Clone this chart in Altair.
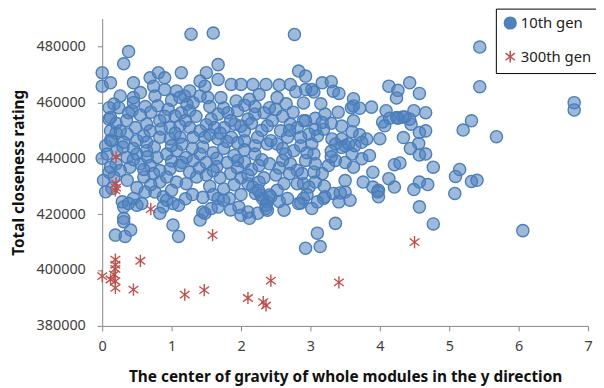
import altair as alt
import pandas as pd

gen10_x = [
    0.0, 0.0, 0.12, 0.31, 0.38, 0.45, 0.69, 0.81, 0.9, 0.74,
    0.9, 0.76, 1.14, 1.07, 1.26, 1.19, 1.41, 1.28, 1.6, 2.77,
    1.67, 1.5, 1.67, 1.48, 1.86, 2.0, 2.17, 2.36, 2.55, 2.71,
    2.79, 2.52, 1.71, 1.52, 1.93, 2.12, 2.26, 2.41, 2.83, 2.93,
    2.93, 3.02, 3.05, 3.17, 3.3, 3.33, 3.41, 3.62, 3.59, 3.62,
    3.71, 3.88, 4.13, 4.26, 4.24, 4.43, 4.57, 5.44, 5.44, 6.8,
    6.8, 5.68, 5.2, 5.32, 4.09, 4.49, 4.66, 4.04, 4.24, 4.33,
    4.45, 4.57, 4.66, 4.34, 4.56, 4.44, 4.57, 4.66, 4.77, 4.21,
    4.29, 4.13, 4.21, 4.57, 4.69, 4.49, 5.15, 5.09, 5.08, 5.32,
    5.4, 3.98, 4.57, 4.77, 6.06, 4.14, 4.26, 4.36, 4.43, 4.07,
    2.93, 3.07, 3.21, 3.17, 3.07, 2.98, 3.19, 3.31, 3.45, 3.5,
    3.64, 3.71, 3.81, 3.02, 3.05, 3.36, 3.45, 3.55, 3.74, 3.74,
    3.62, 3.85, 3.76, 3.9, 3.97, 3.98, 2.88, 3.05, 3.07, 2.98,
    2.9, 3.02, 3.21, 3.33, 3.43, 3.5, 3.57, 3.41, 3.36, 3.1,
    2.93, 3.14, 3.36, 3.26, 3.17, 3.07, 2.93, 3.62, 3.3, 3.5,
    1.41, 1.48, 2.0, 2.12, 2.1, 2.24, 2.36, 2.38, 2.43, 2.31,
    2.62, 2.86, 2.95, 3.1, 3.19, 2.1, 2.17, 2.26, 2.21, 2.29,
    2.41, 2.36, 2.38, 1.97, 2.55, 2.67, 2.83, 2.52, 2.62, 1.45,
    1.57, 1.67, 1.83, 1.67, 1.95, 2.05, 2.26, 2.41, 2.6, 2.71,
    2.81, 2.9, 2.81, 2.38, 2.52, 2.64, 2.76, 2.86, 2.33, 2.5,
    0.02, 0.14, 0.31, 0.29, 0.38, 0.45, 0.5, 0.57, 0.62, 0.76,
    0.88, 0.93, 1.02, 1.1, 0.88, 0.83, 0.31, 0.31, 0.19, 0.33,
    0.41, 0.83, 1.02, 1.1, 0.05, 0.1, 0.0, 0.05, 0.12, 0.2,
    0.26, 0.17, 0.24, 0.1, 0.45, 0.45, 0.43, 0.38, 0.12, 0.1,
    0.95, 1.05, 1.14, 1.22, 1.26, 1.31, 1.41, 0.83, 0.64, 0.48,
    0.69, 0.98, 1.12, 1.26, 0.12, 0.26, 0.36, 0.14, 0.31, 0.5,
    0.64, 0.83, 0.98, 1.12, 1.31, 1.41, 0.21, 0.64, 1.07, 0.07,
    0.5, 0.93, 1.41, 0.36, 0.79, 1.21, 1.31, 0.12, 0.26, 0.4,
    0.55, 0.69, 0.83, 0.98, 1.12, 1.26, 0.17, 0.36, 0.6, 0.74,
    0.93, 1.07, 1.21, 1.36, 0.5, 1.0, 1.3, 1.2, 0.7, 1.4,
    1.57, 2.1, 1.67, 2.2, 1.81, 2.33, 1.95, 1.62, 1.76, 2.81,
    1.91, 2.71, 2.05, 2.57, 2.38, 2.9, 1.48, 1.86, 2.24, 2.67,
    2.86, 1.67, 2.05, 2.43, 1.45, 1.6, 1.75, 1.9, 2.05, 2.2,
    1.5, 1.65, 1.8, 2.15, 1.5, 1.7, 1.85, 2.0, 1.55, 1.75,
    1.9, 2.0, 1.6, 1.85, 1.45, 2.2, 1.95, 1.55, 1.0, 0.6,
    2.5, 2.65, 2.9, 2.6, 2.45, 0.55, 0.62, 0.8, 1.0, 1.12,
    3.4, 3.45, 3.6, 3.3, 3.6, 4.0, 3.9, 3.5, 3.2, 2.7,
    0.2, 0.35, 0.55, 0.7, 0.85, 1.05, 1.2, 1.35, 0.3, 0.45,
    0.75, 1.0, 1.15, 1.3, 0.6, 0.9, 0.2, 0.45, 0.65, 1.15,
    1.5, 1.7, 1.85, 2.0, 2.15, 2.3, 1.55, 1.75, 2.05, 2.2,
    1.65, 1.8, 2.3, 2.1, 1.6, 1.95, 2.25, 1.75, 2.6, 2.7,
    2.95, 3.1, 2.75, 3.15, 3.3, 2.55,
]
gen10_y = [
    470600, 465800, 467000, 473800, 478200, 467000, 468800, 470600, 468800, 465800,
    464600, 462300, 470600, 464100, 464100, 462300, 467600, 484400, 484800, 484300,
    473500, 470600, 468200, 465800, 466400, 466400, 466400, 466400, 466200, 466400,
    463800, 461700, 461700, 461700, 460500, 461100, 462800, 458100, 471200, 469400,
    464600, 464600, 463700, 467000, 467400, 464000, 463200, 461300, 458100, 458700,
    457900, 458300, 465800, 464300, 461600, 467000, 463200, 479800, 465600, 459900,
    457300, 447700, 450100, 453400, 457000, 457000, 456300, 453000, 454600, 454800,
    452200, 449200, 449800, 447400, 445300, 443500, 441200, 441500, 436800, 437700,
    438300, 432700, 429700, 431500, 430600, 428800, 436000, 433500, 427400, 431700,
    432100, 428500, 422600, 416500, 414100, 454300, 454300, 454800, 454000, 451600,
    453400, 454300, 455800, 452800, 450400, 448700, 450400, 446900, 446900, 444500,
    444500, 448400, 446900, 445100, 441500, 445100, 443900, 445100, 445700, 439800,
    436800, 441000, 431500, 429700, 427900, 426200, 434500, 435100, 431500, 429700,
    425600, 422000, 426200, 427400, 427600, 427900, 425000, 424400, 416700, 413200,
    407800, 408400, 439200, 437400, 434500, 438000, 439200, 453400, 440500, 438500,
    417900, 420300, 419600, 418500, 420800, 420300, 422000, 424400, 426200, 425600,
    421400, 424000, 427000, 424400, 425600, 430900, 429700, 431500, 427400, 426800,
    426800, 423200, 421400, 422500, 424500, 425600, 423800, 428500, 430900, 420800,
    422000, 422600, 425600, 425600, 439200, 438600, 437400, 438000, 439200, 438000,
    435700, 430900, 430900, 445100, 445100, 441500, 442700, 444500, 433000, 434000,
    432100, 429200, 422600, 424400, 423800, 425600, 423200, 423800, 427900, 427900,
    426200, 425000, 423800, 423200, 422600, 431500, 418500, 417300, 412500, 412000,
    414300, 420300, 416100, 412000, 428000, 435000, 440000, 444500, 446500, 449000,
    462300, 459400, 458100, 458100, 461700, 459900, 457000, 456300, 454600, 454000,
    457500, 455100, 456300, 459300, 457000, 459900, 462300, 453400, 452200, 451000,
    449800, 451000, 451600, 451000, 449800, 449800, 448700, 446300, 445700, 446300,
    445700, 447500, 446900, 447500, 447500, 449800, 442700, 442700, 442700, 441500,
    441500, 441500, 441500, 440300, 440300, 440300, 439200, 436800, 435600, 436800,
    438000, 437400, 435600, 436200, 437400, 435000, 433300, 432100, 433300, 434500,
    433300, 431500, 430900, 433300, 429500, 428500, 427000, 425500, 430500, 436500,
    454000, 454000, 455800, 455800, 456300, 456300, 457000, 451000, 451000, 451000,
    452200, 452200, 449800, 449800, 451600, 453400, 447500, 447500, 447500, 447500,
    447500, 446900, 446300, 446300, 444000, 442000, 443500, 441000, 443000, 441500,
    438500, 437000, 438500, 436000, 434000, 433000, 434500, 433000, 430000, 429000,
    430500, 427000, 427000, 421500, 426000, 444500, 445500, 448500, 439000, 436000,
    457500, 459500, 459800, 455000, 453500, 463500, 458500, 458800, 460800, 461800,
    456500, 451500, 449500, 442500, 441500, 447000, 435000, 432000, 430000, 434500,
    452500, 453500, 455500, 456500, 450500, 449000, 453500, 455000, 444000, 443500,
    444000, 444500, 445000, 443500, 448000, 455000, 438000, 439500, 440500, 438500,
    452000, 449000, 453500, 451500, 452500, 450000, 458500, 458000, 459000, 458500,
    440000, 446000, 439500, 434000, 435500, 436500, 428500, 425000, 443500, 450000,
    442000, 448000, 456500, 459500, 452500, 436500,
]

gen300_x = [0.2, 0.2, 0.2, 0.19, 0.7, 1.59, 0.0, 0.12, 0.19, 0.19, 0.19, 0.17,
            0.19, 0.19, 0.55, 0.45, 1.19, 1.47, 2.1, 2.32, 2.36, 2.43, 3.41, 4.5]
gen300_y = [440500, 431000, 429500, 428500, 421800, 412500, 397800, 396600, 403700,
            401900, 400400, 398400, 396000, 393600, 403300, 393000, 391200, 392800,
            390000, 388500, 387300, 396200, 395600, 410000]

series_names = ["10th gen", "300th gen"]
x_ticks = [0, 1, 2, 3, 4, 5, 6, 7]
y_ticks = [380000, 400000, 420000, 440000, 460000, 480000]

df = pd.concat([
    pd.DataFrame({"x": gen10_x, "y": gen10_y, "gen": series_names[0]}),
    pd.DataFrame({"x": gen300_x, "y": gen300_y, "gen": series_names[1]}),
], ignore_index=True)

ASTERISK = "M0,-1L0,1M-0.8,-0.6L0.8,0.6M-0.8,0.6L0.8,-0.6"
FONT = "Noto Sans"

leg = alt.Legend(title=None, orient="none", legendX=397, legendY=-10,
                 strokeColor="black", fillColor="white", padding=7,
                 labelFontSize=15, labelFont=FONT, labelColor="#222222",
                 symbolSize=140, rowPadding=15, labelOffset=3)

chart = alt.Chart(df).mark_point(
    filled=False, size=150, strokeWidth=1.4, fillOpacity=0.55, opacity=1
).encode(
    x=alt.X("x:Q", scale=alt.Scale(domain=[0, 7], nice=False, zero=False),
            axis=alt.Axis(values=x_ticks, grid=False, format="d", labelFlush=False,
                          title="The center of gravity of whole modules in the y direction",
                          labelPadding=9, titlePadding=17)),
    y=alt.Y("y:Q", scale=alt.Scale(domain=[380000, 490000], nice=False, zero=False),
            axis=alt.Axis(values=y_ticks, grid=False, format="d", labelFlush=False,
                          title="Total closeness rating",
                          labelPadding=12, titlePadding=10)),
    shape=alt.Shape("gen:N", scale=alt.Scale(domain=series_names, range=["circle", ASTERISK]), legend=leg),
    stroke=alt.Stroke("gen:N", scale=alt.Scale(domain=series_names, range=["#4A7EBB", "#C0504D"]), legend=leg),
    fill=alt.Fill("gen:N", scale=alt.Scale(domain=series_names, range=["#4F81BD", "transparent"]), legend=leg),
).properties(
    width=490, height=310,
    autosize=alt.AutoSizeParams(type="none"),
    padding={"left": 95, "top": 9, "right": 8, "bottom": 62},
    background="white",
).configure_view(stroke=None).configure_axis(
    domainColor="#868686", tickColor="#868686", tickSize=5,
    labelFont=FONT, labelFontSize=14.5, labelColor="#404040",
    titleFont=FONT, titleFontSize=15.5, titleFontWeight="bold", titleColor="#111111",
)

chart.save("out.html", embed_options={"renderer": "svg", "actions": False})
